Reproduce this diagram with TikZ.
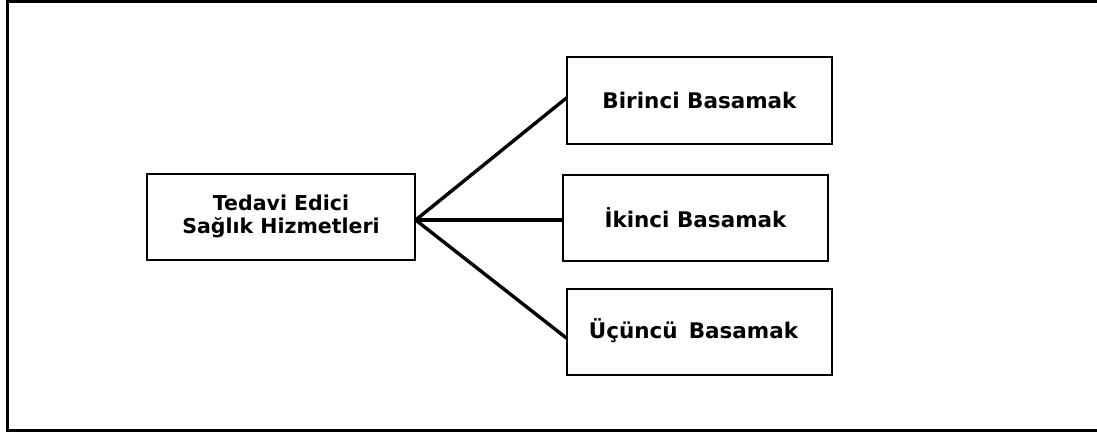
\documentclass[tikz,border=0pt]{standalone}
\usepackage{fontspec}
\setmainfont{DejaVu Sans}
\begin{document}
\begin{tikzpicture}[x=1pt,y=-1pt,
  frame/.style={line width=3pt},
  box/.style={draw, line width=1.3pt, minimum width=265pt, minimum height=86pt,
    inner sep=0pt, align=center, font=\bfseries\fontsize{21.5}{23.5}\selectfont},
  link/.style={line width=3.4pt, line cap=round}]
  \useasboundingbox (0,0) rectangle (1097,432);
  % open outer frame (left, top and bottom sides)
  \draw[frame] (1097,1.5) -- (7.5,1.5) -- (7.5,430.5) -- (1097,430.5);
  % boxes
  \node[box, minimum width=268pt, font=\bfseries\fontsize{20.5}{23}\selectfont] (main) at (281,217)
    {\raisebox{3pt}{\begin{tabular}{c}Tedavi Edici\\Sağlık Hizmetleri\end{tabular}}};
  \node[box, minimum height=87pt] (b1) at (699.5,100.5) {\raisebox{-5pt}{Birinci Basamak}};
  \node[box] (b2) at (695.5,218) {İkinci Basamak};
  \node[box] (b3) at (699.5,332) {\raisebox{6pt}{Üçüncü\, Basamak}\hspace{12pt}};
  % connectors from a common hub
  \coordinate (hub) at ([yshift=-3pt]main.east);
  \draw[link] (hub) -- ([yshift=2.5pt]b1.west);
  \draw[link] (hub) -- ([yshift=-2pt]b2.west);
  \draw[link] (hub) -- ([yshift=-6pt]b3.west);
\end{tikzpicture}
\end{document}
